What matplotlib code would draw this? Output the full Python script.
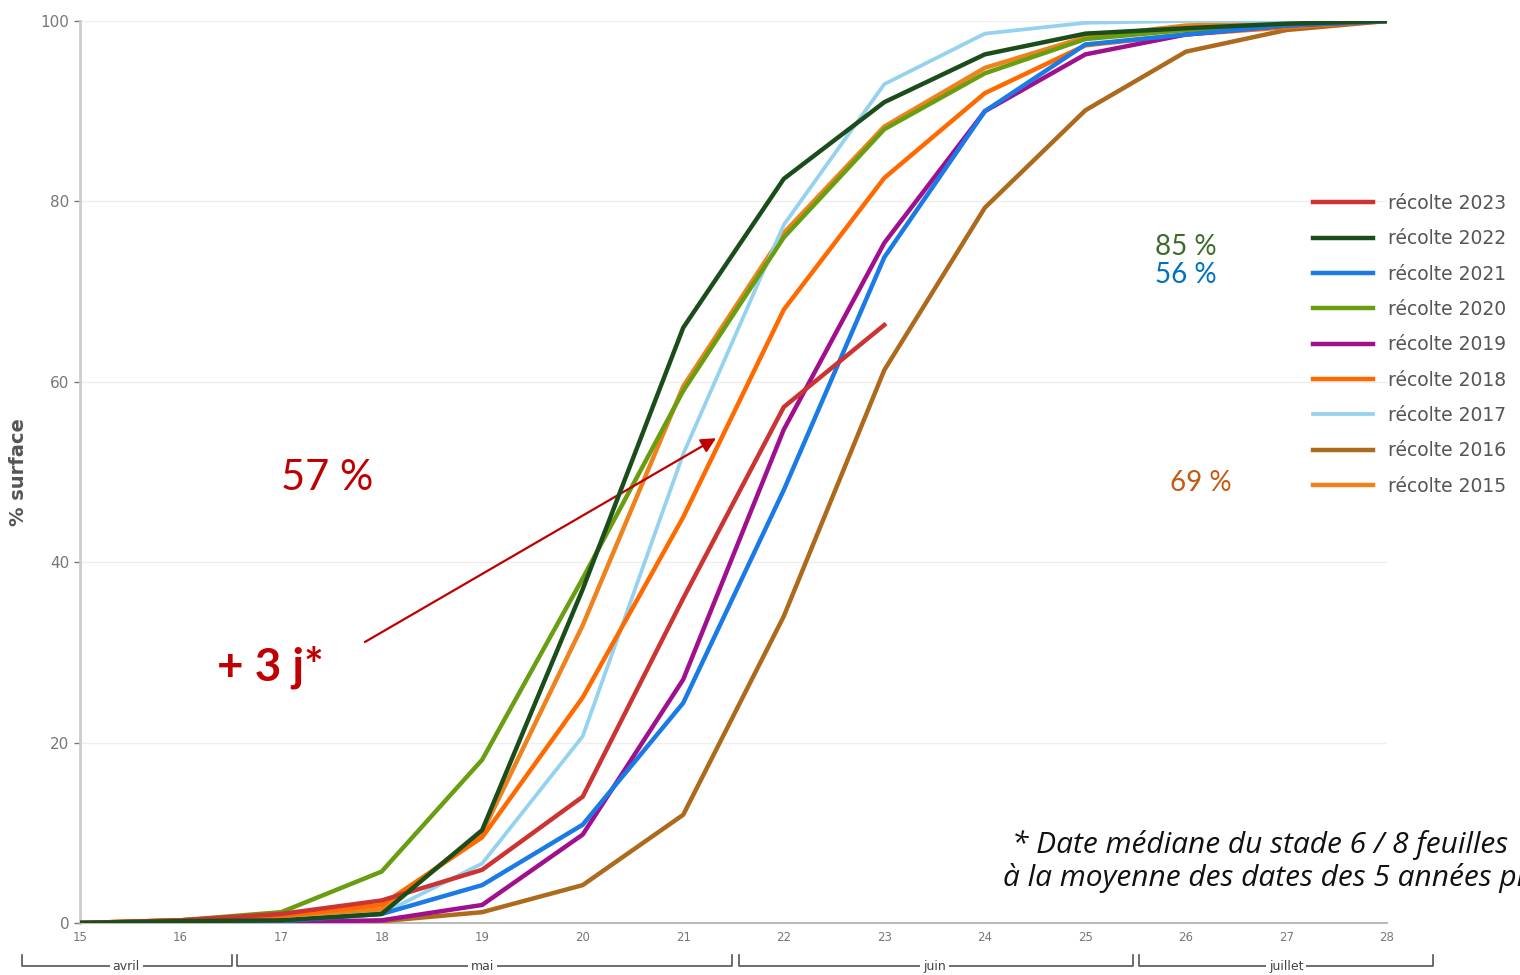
import matplotlib.pyplot as plt
import matplotlib.transforms as mtransforms

weeks = list(range(15, 29))

# % surface au stade 6/8 feuilles, par semaine
r2023 = [0, 0.3, 1.0, 2.5, 5.9, 14, 36, 57.2, 66.3]
r2022 = [0, 0.2, 0.3, 1.0, 10.3, 37, 66, 82.5, 91, 96.3, 98.6, 99.2, 99.7, 100]
r2021 = [0, 0, 0.2, 1.0, 4.2, 10.9, 24.4, 48, 73.8, 90, 97.4, 98.5, 99.5, 100]
r2020 = [0, 0.3, 1.2, 5.7, 18.1, 38.2, 59, 76, 88, 94.2, 98, 99, 99.6, 100]
r2019 = [0, 0, 0.1, 0.3, 2.0, 9.8, 27, 54.7, 75.4, 90, 96.3, 98.5, 99.5, 100]
r2018 = [0, 0.3, 0.8, 2.0, 9.5, 25, 45, 68, 82.6, 92, 97.3, 98.5, 99.3, 100]
r2017 = [0, 0, 0.3, 1.0, 6.6, 20.7, 52, 77.4, 93, 98.6, 99.8, 100, 100, 100]
r2016 = [0, 0, 0.1, 0.2, 1.2, 4.2, 12, 34, 61.3, 79.3, 90.1, 96.6, 99, 100]
r2015 = [0, 0.3, 0.8, 1.5, 10, 33, 59.5, 76.5, 88.3, 94.8, 98.2, 99.5, 99.8, 100]

series = [
    ('récolte 2023', r2023, '#cc3333'),
    ('récolte 2022', r2022, '#1b4d1b'),
    ('récolte 2021', r2021, '#1a7ae6'),
    ('récolte 2020', r2020, '#6a9e12'),
    ('récolte 2019', r2019, '#a0108c'),
    ('récolte 2018', r2018, '#ff6a00'),
    ('récolte 2017', r2017, '#94d2f0'),
    ('récolte 2016', r2016, '#ad6a1c'),
    ('récolte 2015', r2015, '#f0821e'),
]

months = ['avril', 'mai', 'juin', 'juillet']
month_spans = [(14.42, 16.51), (16.56, 21.49), (21.55, 25.47), (25.53, 28.46)]
month_label_x = [15.46, 19.0, 23.5, 27.0]

fig = plt.figure(figsize=(15.2, 9.75), dpi=100)
ax = fig.add_axes([80 / 1520, 52 / 975, 1307 / 1520, 902 / 975])

zorders = {'récolte 2022': 5, 'récolte 2023': 4}
handles = []
for name, vals, col in reversed(series):
    lw = 2.7 if name == 'récolte 2017' else 3.2
    ln, = ax.plot(weeks[:len(vals)], vals, color=col, lw=lw,
                  solid_joinstyle='round', zorder=zorders.get(name, 3), label=name)
    handles.append(ln)
handles = handles[::-1]

ax.set_xlim(15, 28)
ax.set_ylim(0, 100)
ax.set_xticks(weeks)
ax.set_yticks(range(0, 101, 20))
ax.tick_params(axis='x', labelsize=8.5, colors='#777777', length=0, pad=6)
ax.tick_params(axis='y', labelsize=11, colors='#777777', length=4, width=1)
ax.grid(axis='y', color='#eeeeee', lw=1)
ax.set_axisbelow(True)
for s in ['top', 'right']:
    ax.spines[s].set_visible(False)
ax.spines['left'].set_color('#cccccc')
ax.spines['left'].set_linewidth(2)
ax.spines['bottom'].set_color('#bbbbbb')
ax.spines['bottom'].set_linewidth(1.5)
ax.set_ylabel('% surface', fontsize=14, fontweight='bold', color='#555555', labelpad=9)

# mois sous l'axe
tr = mtransforms.blended_transform_factory(ax.transData, ax.transAxes)
yb, yt = -0.0477, -0.035
for m, (a, b), xm in zip(months, month_spans, month_label_x):
    ax.plot([a, a, b, b], [yt, yb, yb, yt], color='#555555', lw=1.2,
            transform=tr, clip_on=False)
    ax.text(xm, yb, m, transform=tr, ha='center', va='center', fontsize=9,
            color='#444444', bbox=dict(facecolor='white', edgecolor='none', pad=2))

fig.legend(handles=handles, loc='upper left', bbox_to_anchor=(1313 / 1520, 1 - 194 / 975),
           frameon=False, fontsize=13.5, labelcolor='#555555', handlelength=3.2,
           handletextpad=0.8, labelspacing=0.87, borderpad=0, borderaxespad=0)

red = '#c00000'
ax.text(17.46, 49.3, '57 %', color=red, fontsize=30, family='Lato', ha='center', va='center')
ax.text(16.89, 28.4, '+ 3 j*', color=red, fontsize=33, family='Lato', fontweight='bold',
        ha='center', va='center')
ax.annotate('', xy=(21.35, 53.9), xytext=(17.81, 31.0),
            arrowprops=dict(arrowstyle='-|>', color=red, lw=1.6, mutation_scale=22))
ax.text(26.0, 74.9, '85 %', color='#3d6b2a', fontsize=20, family='Lato', ha='center', va='center')
ax.text(26.0, 71.8, '56 %', color='#0070c0', fontsize=20, family='Lato', ha='center', va='center')
ax.text(26.15, 48.8, '69 %', color='#c55a11', fontsize=20, family='Lato', ha='center', va='center')

ax.text(24.27, 8.6, '* Date médiane du stade 6 / 8 feuilles', fontsize=21.5,
        family='Open Sans', style='italic', color='#111111', va='center', ha='left', clip_on=False)
ax.text(24.18, 5.0, 'à la moyenne des dates des 5 années précédentes', fontsize=21.5,
        family='Open Sans', style='italic', color='#111111', va='center', ha='left', clip_on=False)

fig.savefig('out.png', dpi=100)
